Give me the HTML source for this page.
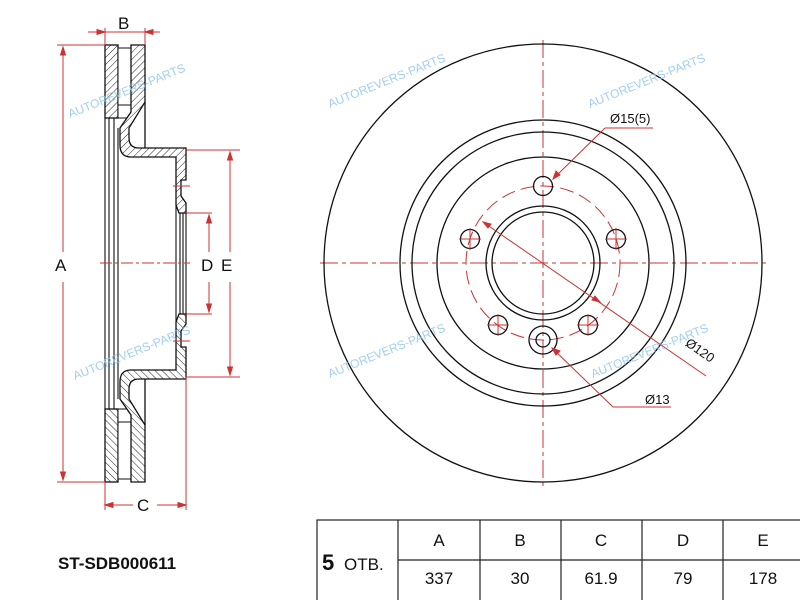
<!DOCTYPE html>
<html><head><meta charset="utf-8"><style>
html,body{margin:0;padding:0;background:#fff;}
svg{display:block;font-family:"Liberation Sans",Arial,sans-serif;}
</style></head><body>
<svg width="800" height="600" viewBox="0 0 800 600" xmlns="http://www.w3.org/2000/svg">
<defs>
<pattern id="h" width="5" height="5" patternUnits="userSpaceOnUse" patternTransform="rotate(45)">
<rect width="5" height="5" fill="#fff"/><line x1="0" y1="0" x2="0" y2="5" stroke="#222" stroke-width="1"/>
</pattern>
<g id="half">
<rect x="105" y="45" width="13" height="73" fill="url(#h)" stroke="#111" stroke-width="1.3"/>
<rect x="118" y="48" width="13" height="70" fill="#fff" stroke="#111" stroke-width="1"/>
<line x1="118" y1="105" x2="131" y2="105" stroke="#111"/>
<path d="M131 45 H145 V102 L129 128 V138 Q129 148 139 148 H186 V180 H181 V196 L186 203 V213 H179 L176 205 V157 H131 Q120 157 120 145 V128 L131 112 Z" fill="url(#h)" stroke="#111" stroke-width="1.3"/>
<line x1="145" y1="102" x2="145" y2="148" stroke="#111" stroke-width="1.3"/>
<line x1="173" y1="186" x2="190" y2="186" stroke="#c33" stroke-width="1"/>
<line x1="186" y1="150" x2="240" y2="150" stroke="#c33" stroke-width="1"/>
<line x1="186" y1="213" x2="212" y2="213" stroke="#c33" stroke-width="1"/>
<line x1="57" y1="45" x2="105" y2="45" stroke="#c33" stroke-width="1"/>
</g>
</defs>

<!-- left section -->
<use href="#half"/>
<use href="#half" transform="translate(0,527) scale(1,-1)"/>
<g stroke="#111" stroke-width="1.1">
<line x1="105" y1="118" x2="105" y2="409"/><line x1="109" y1="118" x2="109" y2="409"/>
<line x1="114" y1="118" x2="114" y2="409"/><line x1="118" y1="128" x2="118" y2="399"/>
<line x1="176" y1="205" x2="176" y2="322"/><line x1="180" y1="213" x2="180" y2="314"/>
<line x1="183" y1="213" x2="183" y2="314"/><line x1="186" y1="213" x2="186" y2="314"/>
</g>
<g stroke="#c33" stroke-width="1" fill="#c33">
<line x1="88" y1="32" x2="160" y2="32"/><line x1="105" y1="28" x2="105" y2="45"/><line x1="145" y1="28" x2="145" y2="45"/>
<path d="M105 32 l-8 -2.5 v5z M145 32 l8 -2.5 v5z"/>
<line x1="63" y1="47" x2="63" y2="252"/><line x1="63" y1="282" x2="63" y2="480"/>
<path d="M63 47 l-2.5 8 h5z M63 480 l-2.5 -8 h5z"/>
<line x1="230" y1="152" x2="230" y2="252"/><line x1="230" y1="282" x2="230" y2="375"/>
<path d="M230 152 l-2.5 8 h5z M230 375 l-2.5 -8 h5z"/>
<line x1="209" y1="215" x2="209" y2="252"/><line x1="209" y1="282" x2="209" y2="312"/>
<path d="M209 215 l-2.5 8 h5z M209 312 l-2.5 -8 h5z"/>
<line x1="105" y1="482" x2="105" y2="510"/><line x1="186" y1="377" x2="186" y2="510"/>
<line x1="107" y1="505" x2="133" y2="505"/><line x1="157" y1="505" x2="184" y2="505"/>
<path d="M105 505 l8 -2.5 v5z M186 505 l-8 -2.5 v5z"/>
<line x1="100" y1="263" x2="190" y2="263" stroke-dasharray="12 3 3 3"/>
</g>
<g font-size="17" fill="#111">
<text x="118" y="29">B</text><text x="55" y="271">A</text><text x="201" y="271">D</text>
<text x="221" y="271">E</text><text x="137" y="511">C</text>
</g>

<!-- right view -->
<g stroke="#c33" stroke-width="1" fill="none" stroke-dasharray="18 4 4 4">
<line x1="543" y1="40" x2="543" y2="486"/><line x1="320" y1="263" x2="766" y2="263"/>
<circle cx="543" cy="263" r="77" stroke-dasharray="14 6"/>
</g>
<g stroke="#111" stroke-width="1.3" fill="none">
<circle cx="543" cy="263" r="219"/><circle cx="543" cy="263" r="143"/><circle cx="543" cy="263" r="131"/>
<circle cx="543" cy="263" r="106"/><circle cx="543" cy="263" r="57"/><circle cx="543" cy="263" r="51"/>
<circle cx="543" cy="186" r="9.5"/><circle cx="616" cy="239" r="9.5"/><circle cx="470" cy="239" r="9.5"/>
<circle cx="588" cy="325" r="9.5"/><circle cx="498" cy="325" r="9.5"/>
<circle cx="543" cy="340" r="14"/><circle cx="543" cy="340" r="7"/>
</g>
<g stroke="#c33" stroke-width="1" fill="#c33">
<line x1="616" y1="228" x2="616" y2="250"/><line x1="605" y1="239" x2="627" y2="239"/>
<line x1="470" y1="228" x2="470" y2="250"/><line x1="459" y1="239" x2="481" y2="239"/>
<line x1="588" y1="314" x2="588" y2="336"/><line x1="577" y1="325" x2="599" y2="325"/>
<line x1="498" y1="314" x2="498" y2="336"/><line x1="487" y1="325" x2="509" y2="325"/>
<line x1="483" y1="222" x2="706" y2="376"/><path d="M483 222 l8 2 -3 4z M600 302 l-8 -2 3 -4z"/>
<line x1="553" y1="179" x2="605" y2="128"/><line x1="605" y1="128" x2="653" y2="128"/><path d="M553 179 l3 -8 4 4z"/>
<line x1="552" y1="348" x2="613" y2="407"/><line x1="613" y1="407" x2="671" y2="407"/><path d="M552 348 l8 3 -4 4z"/>
</g>
<g font-size="13" fill="#111">
<text x="610" y="123">Ø15(5)</text><text x="645" y="404">Ø13</text>
<text x="680" y="351" transform="rotate(35 692 355)">Ø120</text>
</g>

<!-- watermarks -->
<g fill="#8fc3e8" font-size="12" opacity="0.8">
<text x="70" y="118" transform="rotate(-22 70 118)">AUTOREVERS-PARTS</text>
<text x="330" y="108" transform="rotate(-22 330 108)">AUTOREVERS-PARTS</text>
<text x="590" y="108" transform="rotate(-22 590 108)">AUTOREVERS-PARTS</text>
<text x="75" y="380" transform="rotate(-22 75 380)">AUTOREVERS-PARTS</text>
<text x="330" y="378" transform="rotate(-22 330 378)">AUTOREVERS-PARTS</text>
<text x="593" y="378" transform="rotate(-22 593 378)">AUTOREVERS-PARTS</text>
</g>

<!-- table -->
<g stroke="#222" stroke-width="1.2" fill="none">
<rect x="317" y="520" width="490" height="90"/>
<line x1="398" y1="560" x2="800" y2="560"/>
<line x1="398" y1="520" x2="398" y2="600"/><line x1="480" y1="520" x2="480" y2="600"/>
<line x1="561" y1="520" x2="561" y2="600"/><line x1="642" y1="520" x2="642" y2="600"/>
<line x1="723" y1="520" x2="723" y2="600"/>
</g>
<g font-size="17" fill="#111" text-anchor="middle">
<text x="439" y="546">A</text><text x="520" y="546">B</text><text x="601" y="546">C</text>
<text x="683" y="546">D</text><text x="763" y="546">E</text>
<text x="439" y="584">337</text><text x="520" y="584">30</text><text x="601" y="584">61.9</text>
<text x="683" y="584">79</text><text x="763" y="584">178</text>
</g>
<text x="322" y="570" font-size="22" font-weight="bold" fill="#111">5</text>
<text x="344" y="570" font-size="17" fill="#111">ОТВ.</text>
<text x="58" y="569" font-size="17" font-weight="bold" fill="#111">ST-SDB000611</text>
</svg>
</body></html>
